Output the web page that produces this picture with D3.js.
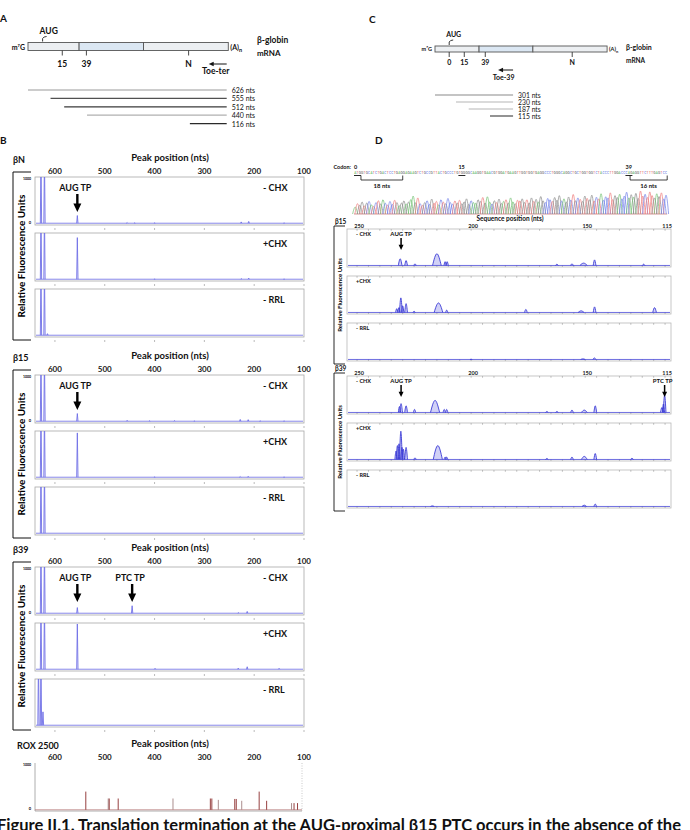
<!DOCTYPE html>
<html>
<head>
<meta charset="utf-8">
<script src="https://cdn.jsdelivr.net/npm/d3@7"></script>
<style>
  body { margin: 0; background: #fff; }
  text { font-family: Lato, "Open Sans", sans-serif; }
</style>
</head>
<body>
<div id="chart"></div>
<script>
// ---------- panel A : toe-ter map, positions in nts upstream of the primer
const fragmentsA = [626, 555, 512, 440, 116];
const fragColorsA = ["#9a9a9a", "#505050", "#3a3a3a", "#b0b0b0", "#2a2a2a"];
const mapTicksA = [["15", 518], ["39", 442], ["N", 120]];
const exonBreaksA = [465, 262];
const mapEndsA = [626, -5];
const augA = 580;

// ---------- panel C : toe-39 map
const fragmentsC = [301, 230, 187, 115];
const fragColorsC = ["#8a8a8a", "#b5b5b5", "#b5b5b5", "#4a4a4a"];
const mapTicksC = [["0", 253], ["15", 202], ["39", 131], ["N", -163]];
const exonBreaksC = [152, -30];
const mapEndsC = [301, -281];
const primerC = 37;

// ---------- panel B : capillary peaks [position nts, RFU]
const peakTicks = [600, 500, 400, 300, 200, 100];
const conditions = ["- CHX", "+CHX", "- RRL"];

const bN_minusCHX = [[628, 1500], [621, 1500], [555, 175], [455, 20], [440, 12], [400, 12], [226, 35], [211, 45], [140, 15]];
const bN_plusCHX = [[628, 1500], [621, 1500], [555, 920], [400, 8], [226, 20], [211, 30], [140, 10]];
const bN_minusRRL = [[628, 1500], [621, 1500], [615, 40]];

const b15_minusCHX = [[628, 1500], [621, 1500], [555, 175], [455, 25], [410, 15], [360, 20], [320, 10], [228, 45], [212, 40], [188, 15], [140, 15]];
const b15_plusCHX = [[628, 1500], [621, 1500], [555, 980], [400, 10], [228, 20], [212, 25], [140, 10]];
const b15_minusRRL = [[628, 1500], [621, 1500]];

const b39_minusCHX = [[628, 1500], [621, 1500], [555, 130], [445, 170], [232, 20], [214, 45]];
const b39_plusCHX = [[628, 1500], [621, 1500], [555, 1000], [399, 25], [232, 30], [214, 60], [150, 25]];
const b39_minusRRL = [[633, 1500], [628, 1500], [624, 300]];

const roxPeaks = [[538, 400], [493, 250], [491, 250], [473, 250], [363, 250], [288, 250], [285, 250], [272, 220],
  [239, 240], [236, 240], [225, 200], [190, 400], [175, 200], [125, 150], [120, 150], [113, 150]];

// ---------- panel D : sequencing ladder and toeprints [position nts, rel. height, half width]
const codons = ["ATG", "GTG", "CAT", "CTG", "ACT", "CCT", "GAG", "GAG", "AAG", "TCT", "GCC", "GTT", "ACT", "GCC", "CTG",
  "TGG", "GGC", "AAG", "GTG", "AAC", "GTG", "GAT", "GAA", "GTT", "GGT", "GGT", "GAG", "GCC", "CTG", "GGC",
  "AGG", "CTG", "CTG", "GTG", "GTC", "TAC", "CCT", "TGG", "ACC", "CAG", "AGG", "TTC", "TTT", "GAG", "TCC"];
const chromHeights = [
  .30, .45, .38, .52, .35, .48, .55, .40, .33, .50, .58, .44, .62, .47, .39,
  .55, .42, .60, .50, .36, .48, .57, .44, .52, .63, .78, .49, .70, .45, .38,
  .50, .58, .42, .65, .47, .55, .40, .62, .52, .45, .68, .50, .43, .57, .48,
  .60, .45, .53, .66, .42, .58, .50, .47, .62, .55, .72, .48, .75, .52, .44,
  .58, .50, .65, .46, .55, .62, .48, .70, .53, .45, .60, .57, .66, .50, .62,
  .48, .70, .55, .64, .52, .76, .58, .50, .68, .62, .55, .72, .60, .80, .57,
  .66, .52, .74, .61, .85, .58, .70, .64, .55, .78, .68, .62, .82, .57, .73,
  .66, .88, .60, .75, .70, .92, .63, .80, .72, .86, .66, .78, .95, .70, .84,
  .74, .90, .68, 1.0, .78, .86, .72, .96, .80, .70, .88, .76, .92, .66, .82];
const codonMarks = [0, 15, 39];
const ntBrackets = [["18 nts", 3, 21], ["16 nts", 119, 135]];

const seqTicks = [250, 200, 150, 115];
const d15_minusCHX = [[231.1, .20, .8], [228.5, .15, .6], [224.6, .06, .5], [215, .34, 1.9], [211.4, .12, .5], [210.5, .12, .5],
  [162.4, .05, .6], [155.8, .06, .6], [150.7, .08, 1.6], [145.9, .17, .6], [124.4, .05, .6]];
const d15_plusCHX = [[232.6, .12, .5], [231.6, .15, .5], [230.8, .42, .6], [230, .2, .5], [228.5, .26, .6], [225, .05, .5],
  [214.3, .28, 1.9], [210.7, .08, .5], [176, .1, .6], [151.8, .06, 1.3], [145.9, .17, .6], [119.6, .15, .8]];
const d15_minusRRL = [[200, .02, .5], [151, .03, 1], [146, .06, .6]];
const d39_minusCHX = [[231.4, .18, .5], [230.7, .26, .6], [228.5, .2, .6], [224.8, .1, .5], [215.8, .35, 2], [211.8, .1, .5],
  [210.7, .1, .5], [166.8, .04, .6], [162.4, .04, .6], [155.8, .08, .6], [150.4, .08, 1.3], [145.6, .2, .6],
  [116.4, .15, .6], [115.7, .25, .5], [115.2, .5, .6]];
const d39_plusCHX = [[232.9, .25, .5], [232.3, .4, .5], [231.6, .45, .5], [230.8, .8, .6], [230.3, .35, .5], [229.7, .3, .5],
  [228.5, .35, .6], [224.6, .06, .5], [214.6, .4, 2], [211.4, .08, .5], [210.7, .08, .5], [166.8, .04, .6],
  [155.8, .08, .6], [150.4, .1, 1.3], [145.6, .18, .6], [129.5, .05, .6]];
const d39_minusRRL = [[217, .03, .8], [150.4, .05, 1], [145.6, .08, .6]];

const caption = "Figure II.1. Translation termination at the AUG-proximal β15 PTC occurs in the absence of the";

// ======================================================================
const svg = d3.select("#chart").append("svg")
  .attr("width", 690)
  .attr("height", 830);

const defs = svg.append("defs");
let clipCount = 0;
function clipRect(x, y, w, h) {
  const id = "clip" + (clipCount++);
  defs.append("clipPath").attr("id", id)
    .append("rect").attr("x", x).attr("y", y).attr("width", w).attr("height", h);
  return "url(#" + id + ")";
}

function txt(g, x, y, s, size, weight, anchor) {
  return g.append("text")
    .attr("x", x).attr("y", y)
    .attr("font-size", size)
    .attr("font-weight", weight || "bold")
    .attr("text-anchor", anchor || "start")
    .attr("fill", "#111")
    .text(s);
}

function downArrow(g, x, y1, y2, stem, head) {
  const hl = head * 1.05;
  g.append("path")
    .attr("d", `M${x - stem / 2},${y1}L${x + stem / 2},${y1}L${x + stem / 2},${y2 - hl}L${x + head / 2},${y2 - hl}` +
      `L${x},${y2}L${x - head / 2},${y2 - hl}L${x - stem / 2},${y2 - hl}Z`)
    .attr("fill", "#000");
}

// ---------- mRNA map (A and C)
function drawMap(o) {
  const g = svg.append("g");
  const x = o.scale;
  txt(g, o.panelX, o.panelY, o.panel, 10);
  const bar = g.append("g");
  const cuts = [o.ends[0]].concat(o.breaks, [o.ends[1]]);
  for (let i = 0; i < cuts.length - 1; i++) {
    bar.append("rect")
      .attr("x", x(cuts[i])).attr("y", o.barY)
      .attr("width", x(cuts[i + 1]) - x(cuts[i])).attr("height", o.barH)
      .attr("fill", i === 1 ? "#dbe7f3" : "#eceff2")
      .attr("stroke", "#555").attr("stroke-width", 0.9);
  }
  o.ticks.forEach(([lab, p]) => {
    g.append("line").attr("x1", x(p)).attr("x2", x(p))
      .attr("y1", o.barY + o.barH).attr("y2", o.barY + o.barH + 5)
      .attr("stroke", "#333").attr("stroke-width", 0.9);
    txt(g, x(p), o.barY + o.barH + o.labDy, lab, o.fs, "bold", "middle");
  });
  // AUG hook
  const ax = x(o.aug);
  g.append("path")
    .attr("d", `M${ax},${o.barY - 1}L${ax},${o.barY - 4}Q${ax + 1},${o.barY - 6} ${ax + 4},${o.barY - 6}`)
    .attr("fill", "none").attr("stroke", "#222").attr("stroke-width", 0.9);
  txt(g, ax - 3, o.barY - 9, "AUG", o.fs);
  txt(g, x(o.ends[0]) - 3, o.barY + o.barH - 1, "m⁷G", o.fs - 1.5, "bold", "end");
  const poly = txt(g, x(o.ends[1]) + 2, o.barY + o.barH - 1, "(A)", o.fs - 1.5);
  poly.append("tspan").attr("dy", 2).attr("font-size", o.fs - 3).text("n");
  txt(g, o.gx, o.gy, "β-globin", o.fs);
  txt(g, o.gx, o.gy + 13, "mRNA", o.fs - 0.5);
  // primer arrow
  const px = x(o.primer);
  g.append("line").attr("x1", px).attr("x2", px - o.arrowLen + 3)
    .attr("y1", o.arrowY).attr("y2", o.arrowY).attr("stroke", "#111").attr("stroke-width", 1);
  g.append("path")
    .attr("d", `M${px - o.arrowLen},${o.arrowY}L${px - o.arrowLen + 5},${o.arrowY - 2.2}L${px - o.arrowLen + 5},${o.arrowY + 2.2}Z`)
    .attr("fill", "#111");
  txt(g, px - o.arrowLen / 2 - 2, o.arrowY + 10, o.primerName, o.fs, "bold", "middle");
  // fragments
  o.frags.forEach((f, i) => {
    const fy = o.fragY + i * o.fragStep;
    g.append("line").attr("x1", x(f)).attr("x2", px)
      .attr("y1", fy).attr("y2", fy)
      .attr("stroke", o.fragColors[i]).attr("stroke-width", 1.2);
    txt(g, px + 5, fy + 3, f + " nts", o.fragFs, "normal");
  });
}

drawMap({
  scale: d3.scaleLinear().domain([626, 0]).range([28, 226.7]),
  panel: "A", panelX: 0, panelY: 22,
  ends: mapEndsA, breaks: exonBreaksA, ticks: mapTicksA, aug: augA,
  barY: 42.5, barH: 8, labDy: 16, fs: 8.5,
  gx: 257, gy: 43,
  primer: 0, primerName: "Toe-ter", arrowY: 64, arrowLen: 18,
  frags: fragmentsA, fragColors: fragColorsA, fragY: 90, fragStep: 8.4, fragFs: 7
});

drawMap({
  scale: d3.scaleLinear().domain([301, 115]).range([435, 490]),
  panel: "C", panelX: 369, panelY: 23,
  ends: mapEndsC, breaks: exonBreaksC, ticks: mapTicksC, aug: 253,
  barY: 46, barH: 6, labDy: 13, fs: 7,
  gx: 626, gy: 50,
  primer: primerC, primerName: "Toe-39", arrowY: 70, arrowLen: 15,
  frags: fragmentsC, fragColors: fragColorsC, fragY: 95, fragStep: 7, fragFs: 6.8
});

// ---------- capillary electrophoresis groups (B)
txt(svg, 0, 144, "B", 10);
const xB = d3.scaleLinear().domain([640, 100]).range([35, 304]);

function spikes(g, peaks, x, y, w, color, base) {
  g.selectAll(null).data(peaks).join("path")
    .attr("d", d => `M${x(d[0] + w)},${y(base)}L${x(d[0])},${y(d[1])}L${x(d[0] - w)},${y(base)}`)
    .attr("fill", "none").attr("stroke", color).attr("stroke-width", 0.9);
}

function axisHeader(g, top, name, title) {
  txt(g, name === "ROX 2500" ? 17 : 13, top - 14, name, 9);
  txt(g, 170, top - 16, title, 9.5, "bold", "middle");
  g.selectAll(null).data(peakTicks).join("text")
    .attr("x", d => xB(d)).attr("y", top - 3)
    .attr("text-anchor", "middle").attr("font-size", 8).attr("font-weight", "bold")
    .attr("fill", "#222").text(d => d);
}

function drawPeakGroup(top, name, traces, marks) {
  const g = svg.append("g");
  axisHeader(g, top, name, "Peak position (nts)");
  traces.forEach((peaks, i) => {
    const y0 = top + i * 56, y1 = y0 + 48;
    const y = d3.scaleLinear().domain([0, 1000]).range([y1 - 1.5, y0 + 1]);
    g.append("rect").attr("x", 35).attr("y", y0).attr("width", 269).attr("height", 48)
      .attr("fill", "none").attr("stroke", "#a8a8a8").attr("stroke-width", 0.8);
    // small ticks under each panel
    g.selectAll(null).data(peakTicks).join("line")
      .attr("x1", d => xB(d)).attr("x2", d => xB(d))
      .attr("y1", y1 + 3).attr("y2", y1 + 5).attr("stroke", "#aaa").attr("stroke-width", 0.8);
    const tg = g.append("g").attr("clip-path", clipRect(35, y0, 269, 48));
    tg.append("line").attr("x1", 36).attr("x2", 303).attr("y1", y(6)).attr("y2", y(6))
      .attr("stroke", "#7a7ae6").attr("stroke-width", 0.9);
    spikes(tg, peaks, xB, y, 1.3, "#6f6fe6", 6);
    txt(g, 263, y0 + 14, conditions[i], 9);
    if (i === 0) {
      g.append("text").attr("x", 31).attr("y", y0 + 3).attr("text-anchor", "end")
        .attr("font-size", 3.5).attr("font-weight", "bold").text("1000");
      g.append("text").attr("x", 31).attr("y", y1 - 1).attr("text-anchor", "end")
        .attr("font-size", 4).attr("font-weight", "bold").text("0");
    }
  });
  marks.forEach(m => {
    const mx = xB(m.pos);
    txt(g, mx - 2, top + 14, m.label, 9, "bold", "middle");
    downArrow(g, mx, top + 17, top + 35, 2.4, 8);
  });
  const b0 = top - 5, b1 = top + 3 * 56 - 5;
  g.append("path").attr("d", `M31,${b0}L13,${b0}L13,${b1}L31,${b1}`)
    .attr("fill", "none").attr("stroke", "#111").attr("stroke-width", 1);
  g.append("text")
    .attr("transform", `translate(25,${(b0 + b1) / 2}) rotate(-90)`)
    .attr("text-anchor", "middle").attr("font-size", 10).attr("font-weight", "bold")
    .text("Relative Fluorescence Units");
}

drawPeakGroup(177, "βN", [bN_minusCHX, bN_plusCHX, bN_minusRRL], [{ pos: 555, label: "AUG TP" }]);
drawPeakGroup(375, "β15", [b15_minusCHX, b15_plusCHX, b15_minusRRL], [{ pos: 555, label: "AUG TP" }]);
drawPeakGroup(567, "β39", [b39_minusCHX, b39_plusCHX, b39_minusRRL],
  [{ pos: 555, label: "AUG TP" }, { pos: 445, label: "PTC TP" }]);

// size standard
(function () {
  const top = 763;
  const g = svg.append("g");
  axisHeader(g, top, "ROX 2500", "Peak position (nts)");
  const y = d3.scaleLinear().domain([0, 1000]).range([top + 47, top + 1]);
  g.append("line").attr("x1", 35).attr("x2", 35).attr("y1", top).attr("y2", top + 48)
    .attr("stroke", "#999").attr("stroke-width", 0.8);
  g.append("line").attr("x1", 302).attr("x2", 302).attr("y1", top).attr("y2", top + 48)
    .attr("stroke", "#bbb").attr("stroke-width", 0.8).attr("stroke-dasharray", "1,1.5");
  g.append("line").attr("x1", 35).attr("x2", 302).attr("y1", top + 48).attr("y2", top + 48)
    .attr("stroke", "#999").attr("stroke-width", 0.8);
  g.append("line").attr("x1", 35).attr("x2", 302).attr("y1", y(5)).attr("y2", y(5))
    .attr("stroke", "#b07070").attr("stroke-width", 0.7);
  g.selectAll(null).data(roxPeaks).join("line")
    .attr("x1", d => xB(d[0])).attr("x2", d => xB(d[0]))
    .attr("y1", y(5)).attr("y2", d => y(d[1]))
    .attr("stroke", (d, i) => i % 3 === 1 ? "#a08080" : "#8b2a2a").attr("stroke-width", 0.9);
  g.append("text").attr("x", 31).attr("y", top + 3).attr("text-anchor", "end")
    .attr("font-size", 3.5).attr("font-weight", "bold").text("1000");
  g.append("text").attr("x", 31).attr("y", top + 47).attr("text-anchor", "end")
    .attr("font-size", 4).attr("font-weight", "bold").text("0");
})();

// ---------- panel D
txt(svg, 375, 144, "D", 10);

const seqX = d3.scaleLinear().domain([0, 135]).range([354, 667.2]);
const baseColor = { A: "#4caf50", C: "#4a5fe0", G: "#444", T: "#e04848" };
const peakColor = { A: "#70c070", C: "#7080e8", G: "#8a8a8a", T: "#ee7a7a" };
const bases = codons.join("").split("");

(function () {
  const g = svg.append("g");
  txt(g, 351, 169, "Codon:", 5.5, "bold", "end");
  codonMarks.forEach(c => {
    txt(g, seqX(c * 3), 169, c, 5.5);
    g.append("line").attr("x1", seqX(c * 3)).attr("x2", seqX(c * 3 + 3))
      .attr("y1", 175.5).attr("y2", 175.5).attr("stroke", "#111").attr("stroke-width", 0.9);
  });
  g.selectAll(null).data(bases).join("text")
    .attr("x", (d, i) => seqX(i + 0.5)).attr("y", 174)
    .attr("text-anchor", "middle").attr("font-size", 3)
    .attr("fill", d => baseColor[d]).text(d => d);
  ntBrackets.forEach(([lab, a, b]) => {
    g.append("path")
      .attr("d", `M${seqX(a)},175.5L${seqX(a)},180L${seqX(b)},180L${seqX(b)},175.5`)
      .attr("fill", "none").attr("stroke", "#111").attr("stroke-width", 0.8);
    txt(g, (seqX(a) + seqX(b)) / 2, 188, lab, 6, "bold", "middle");
  });
  const yC = d3.scaleLinear().domain([0, 1]).range([214, 191]);
  const peakLine = d3.line().x(d => seqX(d[0])).y(d => yC(d[1])).curve(d3.curveMonotoneX);
  g.append("line").attr("x1", seqX(0)).attr("x2", seqX(135)).attr("y1", 214).attr("y2", 214)
    .attr("stroke", "#c06a6a").attr("stroke-width", 0.7);
  g.selectAll(null).data(bases).join("path")
    .attr("d", (d, i) => peakLine([[i - 0.6, 0], [i + 0.5, chromHeights[i]], [i + 1.6, 0]]))
    .attr("fill", "none").attr("stroke", d => peakColor[d]).attr("stroke-width", 0.7);
})();

const xD = d3.scaleLinear().domain([254.4, 112.4]).range([347, 671]);
const dTickMarks = d3.range(250, 114, -5);

function drawSeqGroup(top, name, traces, withTitle, marks) {
  const g = svg.append("g");
  txt(g, 335, top - 5, name, 6.5);
  if (withTitle) txt(g, 510, top - 8, "Sequence position (nts)", 6.5, "bold", "middle");
  g.selectAll(null).data(seqTicks).join("text")
    .attr("x", d => xD(d) + 2).attr("y", top - 1)
    .attr("text-anchor", "middle").attr("font-size", 5.5).attr("font-weight", "bold")
    .attr("fill", "#222").text(d => d);
  const labs = ["- CHX", "+CHX", "- RRL"];
  traces.forEach((peaks, i) => {
    const y0 = top + i * 47, y1 = y0 + 38;
    const y = d3.scaleLinear().domain([0, 1]).range([y1 - 1, y0 + 1]);
    g.append("rect").attr("x", 347).attr("y", y0).attr("width", 324).attr("height", 38)
      .attr("fill", "none").attr("stroke", "#b8b8b8").attr("stroke-width", 0.8);
    g.selectAll(null).data(dTickMarks).join("line")
      .attr("x1", d => xD(d)).attr("x2", d => xD(d))
      .attr("y1", y0).attr("y2", y0 + 1.8).attr("stroke", "#999").attr("stroke-width", 0.6);
    g.selectAll(null).data(dTickMarks).join("line")
      .attr("x1", d => xD(d)).attr("x2", d => xD(d))
      .attr("y1", y1).attr("y2", y1 - 1.8).attr("stroke", "#999").attr("stroke-width", 0.6);
    const tg = g.append("g").attr("clip-path", clipRect(347, y0, 324, 38));
    tg.append("line").attr("x1", 348).attr("x2", 670).attr("y1", y(0.015)).attr("y2", y(0.015))
      .attr("stroke", "#4a4ad8").attr("stroke-width", 0.8);
    const pk = d3.line().x(d => xD(d[0])).y(d => y(d[1])).curve(d3.curveMonotoneX);
    tg.selectAll(null).data(peaks).join("path")
      .attr("d", d => pk([[d[0] + d[2], 0.015], [d[0], d[1]], [d[0] - d[2], 0.015]]))
      .attr("fill", "rgba(70,70,220,0.25)").attr("stroke", "#3b3bd6").attr("stroke-width", 0.9);
    txt(g, 356, y0 + 6.5, labs[i], 5.5);
  });
  marks.forEach(m => {
    const mx = xD(m.pos);
    txt(g, mx + (m.pos < 120 ? -2 : 0), top + 6.5, m.label, 6, "bold", "middle");
    downArrow(g, mx, top + 9, top + 21, 1.5, 5);
  });
  const b0 = top - 3, b1 = top + 2 * 47 + 41;
  g.append("path").attr("d", `M345,${b0}L334,${b0}L334,${b1}L345,${b1}`)
    .attr("fill", "none").attr("stroke", "#111").attr("stroke-width", 0.9);
  g.append("text")
    .attr("transform", `translate(342,${(b0 + b1) / 2}) rotate(-90)`)
    .attr("text-anchor", "middle").attr("font-size", 6).attr("font-weight", "bold")
    .text("Relative Fluorescence Units");
}

drawSeqGroup(229, "β15", [d15_minusCHX, d15_plusCHX, d15_minusRRL], true, [{ pos: 230.7, label: "AUG TP" }]);
drawSeqGroup(376, "β39", [d39_minusCHX, d39_plusCHX, d39_minusRRL], false,
  [{ pos: 230.7, label: "AUG TP" }, { pos: 115.2, label: "PTC TP" }]);

// ---------- caption (cut by the page edge, as in the source page)
svg.append("text")
  .attr("x", -3).attr("y", 831)
  .attr("font-size", 17).attr("font-weight", "bold")
  .attr("textLength", 684).attr("lengthAdjust", "spacingAndGlyphs")
  .attr("fill", "#111")
  .text(caption);
</script>
</body>
</html>
